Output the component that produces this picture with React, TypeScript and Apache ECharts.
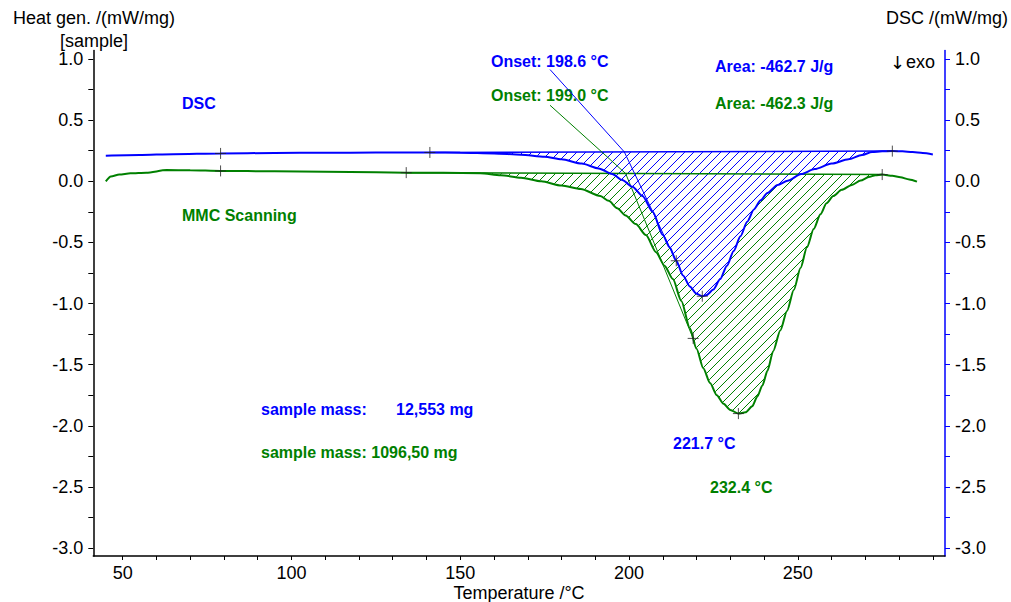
import React, { useEffect, useRef } from "react";
import * as echarts from "echarts";

// ---- data ----
const dscTemp = [45, 55, 65, 79, 95, 110, 125, 141, 150, 160, 168, 175, 180, 186, 191, 195, 198, 201, 204, 207, 210, 212, 214, 216, 218, 220, 221.7, 223, 225, 227, 229, 231, 233, 235, 237, 239, 241, 244, 247, 251, 255, 260, 265, 269, 272, 275, 278, 281, 284, 287, 290];
const dscValue = [0.21, 0.215, 0.222, 0.228, 0.232, 0.234, 0.235, 0.236, 0.234, 0.228, 0.218, 0.2, 0.18, 0.145, 0.105, 0.06, 0.01, -0.045, -0.12, -0.25, -0.44, -0.54, -0.65, -0.77, -0.86, -0.92, -0.94, -0.93, -0.885, -0.8, -0.69, -0.57, -0.45, -0.33, -0.23, -0.155, -0.095, -0.03, 0.005, 0.06, 0.1, 0.145, 0.18, 0.215, 0.24, 0.245, 0.247, 0.245, 0.24, 0.232, 0.22];

const mmcTemp = [45, 46.5, 49, 52.3, 57, 63, 70, 79, 95, 110, 125, 134, 145, 156, 162, 168, 174, 180, 185.7, 191.5, 194, 196.5, 199, 202, 205, 208, 210.5, 213, 215.5, 218, 220, 222, 224, 226, 228, 230, 232.4, 234.5, 236.5, 238, 239.5, 241, 242.7, 244.8, 246.8, 248.8, 250.8, 252.7, 254.7, 256.7, 258.5, 260.5, 263, 266, 268.6, 271, 273, 275, 278, 280.4, 283, 285.3];
const mmcValue = [0.0, 0.04, 0.055, 0.065, 0.07, 0.092, 0.09, 0.085, 0.082, 0.078, 0.074, 0.071, 0.069, 0.066, 0.05, 0.03, 0.0, -0.035, -0.063, -0.12, -0.16, -0.22, -0.28, -0.35, -0.44, -0.58, -0.69, -0.8, -0.98, -1.2, -1.37, -1.53, -1.65, -1.75, -1.82, -1.87, -1.9, -1.89, -1.84, -1.76, -1.67, -1.55, -1.39, -1.22, -1.06, -0.89, -0.71, -0.54, -0.39, -0.27, -0.18, -0.12, -0.07, -0.03, 0.006, 0.035, 0.05, 0.055, 0.045, 0.033, 0.015, -0.003];

const dscMarks = [[79, 0.228], [141, 0.236], [214, -0.65], [221.7, -0.94], [278, 0.247]];
const mmcMarks = [[79, 0.085], [134, 0.071], [219, -1.285], [232.4, -1.9], [275, 0.055]];

const dscBaseline = [[141, 0.236], [278, 0.247]];
const mmcBaseline = [[134, 0.071], [275, 0.055]];
const dscTangent = [[198.6, 0.2406], [214.6, -0.69]];
const mmcTangent = [[199.0, 0.0636], [219.5, -1.32]];
const dscLeader = [[176.6, 0.914], [198.6, 0.2406]];
const mmcLeader = [[176.6, 0.622], [199.0, 0.0636]];

const xTickValues = [50, 60, 70, 80, 90, 100, 110, 120, 130, 140, 150, 160, 170, 180, 190, 200, 210, 220, 230, 240, 250, 260, 270, 280, 290];
const xLabelValues = [50, 100, 150, 200, 250];
const yTickValues = [-3, -2.75, -2.5, -2.25, -2, -1.75, -1.5, -1.25, -1, -0.75, -0.5, -0.25, 0, 0.25, 0.5, 0.75, 1];
const yLabelValues = [-3, -2.5, -2, -1.5, -1, -0.5, 0, 0.5, 1];

const BLUE = "#0000ff";
const GREEN = "#008000";
const FONT = "'Liberation Sans', Arial, 'DejaVu Sans', sans-serif";

const zip = (a: number[], b: number[]) => a.map((v, i) => [v, b[i]]);

const interp = (xs: number[], ys: number[], x: number) => {
  if (x <= xs[0]) return ys[0];
  if (x >= xs[xs.length - 1]) return ys[ys.length - 1];
  let lo = 0, hi = xs.length - 1;
  while (hi - lo > 1) {
    const mid = (lo + hi) >> 1;
    if (xs[mid] <= x) lo = mid; else hi = mid;
  }
  const t = (x - xs[lo]) / (xs[hi] - xs[lo]);
  return ys[lo] + t * (ys[hi] - ys[lo]);
};

function hatchSeries(temps: number[], vals: number[], base: number[][], yAxisIndex: number, color: string, z: number) {
  return {
    type: "custom",
    yAxisIndex,
    silent: true,
    z,
    itemStyle: { color, borderColor: color },
    data: [base[0]],
    renderItem: (_params: any, api: any) => {
      const px: number[] = [];
      const py: number[] = [];
      for (let i = 0; i < temps.length; i++) {
        const p = api.coord([temps[i], vals[i]]);
        px.push(p[0]);
        py.push(p[1]);
      }
      const b0 = api.coord(base[0]);
      const b1 = api.coord(base[1]);
      const baseY = (x: number) => b0[1] + ((b1[1] - b0[1]) * (x - b0[0])) / (b1[0] - b0[0]);
      const step = 9;
      let d = "";
      let maxY = -Infinity;
      for (const v of py) maxY = Math.max(maxY, v);
      const cMin = Math.floor((b0[0] + Math.min(b0[1], b1[1])) / step) * step;
      const cMax = b1[0] + maxY;
      const seg = (a: number, b: number, c: number) => {
        d += `M${a.toFixed(2)} ${(c - a).toFixed(2)}L${b.toFixed(2)} ${(c - b).toFixed(2)}`;
      };
      for (let c = cMin; c <= cMax; c += step) {
        let inside = false;
        let sx = 0;
        let lastX = 0;
        for (let x = b0[0]; x <= b1[0]; x += 0.5) {
          const y = c - x;
          const ok = y >= baseY(x) && y <= interp(px, py, x);
          if (ok && !inside) { inside = true; sx = x; }
          if (!ok && inside) { inside = false; seg(sx, lastX, c); }
          lastX = x;
        }
        if (inside) seg(sx, lastX, c);
      }
      return {
        type: "path",
        shape: { pathData: d || "M0 0" },
        style: { stroke: color, fill: "none", lineWidth: 1 },
      };
    },
  };
}

const thinLine = (data: number[][], color: string, yAxisIndex: number, width = 1) => ({
  type: "line",
  yAxisIndex,
  data,
  showSymbol: false,
  silent: true,
  z: 3,
  lineStyle: { color, width },
});

const markSeries = (data: number[][], yAxisIndex: number) => ({
  type: "scatter",
  yAxisIndex,
  data,
  symbol: "path://M0 5 L10 5 M5 0 L5 10",
  symbolSize: 11,
  silent: true,
  z: 6,
  itemStyle: { color: "none", borderColor: "#222", borderWidth: 1 },
});

const txt = (text: string, x: number, y: number, fill: string, bold = true, size = 16, align = "left", family = FONT) => ({
  type: "text",
  x,
  y,
  silent: true,
  style: {
    text,
    fill,
    fontSize: size,
    fontWeight: bold ? "bold" : "normal",
    fontFamily: family,
    align,
    verticalAlign: "middle",
  },
});

const yAxisBase = (position: string, lineColor: string) => ({
  type: "value",
  position,
  min: -3.065,
  max: 1.07,
  axisLine: { show: true, onZero: false, lineStyle: { color: lineColor, width: 1.5 } },
  axisTick: { show: true, customValues: yTickValues, length: 5, lineStyle: { color: lineColor, width: 1 } },
  axisLabel: {
    customValues: yLabelValues,
    margin: 10,
    fontSize: 18,
    color: "#000",
    fontFamily: FONT,
    formatter: (v: number) => Number(v).toFixed(1),
  },
  splitLine: { show: false },
});

export default function App() {
  const ref = useRef<HTMLDivElement>(null);
  useEffect(() => {
    document.body.style.margin = "0";
    if (!ref.current) return;
    const chart = echarts.init(ref.current, null, { renderer: "svg" });
    chart.setOption({
      animation: false,
      backgroundColor: "#fff",
      textStyle: { fontFamily: FONT },
      grid: { left: 93.3, right: 66, top: 50.5, bottom: 46, containLabel: false, outerBoundsMode: "none" },
      xAxis: {
        type: "value",
        min: 41.3,
        max: 293.6,
        axisLine: { show: true, onZero: false, lineStyle: { color: "#000", width: 1.5 } },
        axisTick: { show: true, customValues: xTickValues, length: 4, lineStyle: { color: "#000" } },
        axisLabel: { customValues: xLabelValues, margin: 8, fontSize: 18, color: "#000", fontFamily: FONT },
        splitLine: { show: false },
      },
      yAxis: [yAxisBase("left", "#000"), yAxisBase("right", BLUE)],
      series: [
        hatchSeries(mmcTemp, mmcValue, mmcBaseline, 0, GREEN, 1),
        hatchSeries(dscTemp, dscValue, dscBaseline, 1, BLUE, 1),
        thinLine(mmcBaseline, GREEN, 0, 1.5),
        thinLine(dscBaseline, BLUE, 1, 1.5),
        thinLine(mmcTangent, GREEN, 0),
        thinLine(dscTangent, BLUE, 1),
        thinLine(mmcLeader, GREEN, 0),
        thinLine(dscLeader, BLUE, 1),
        {
          type: "line",
          name: "MMC Scanning",
          yAxisIndex: 0,
          data: zip(mmcTemp, mmcValue),
          showSymbol: false,
          smooth: 0.25,
          smoothMonotone: "x",
          z: 4,
          lineStyle: { color: GREEN, width: 2 },
        },
        {
          type: "line",
          name: "DSC",
          yAxisIndex: 1,
          data: zip(dscTemp, dscValue),
          showSymbol: false,
          smooth: 0.25,
          smoothMonotone: "x",
          z: 5,
          lineStyle: { color: BLUE, width: 2 },
        },
        markSeries(mmcMarks, 0),
        markSeries(dscMarks, 1),
      ],
      graphic: [
        txt("Heat gen. /(mW/mg)", 94, 18, "#000", false, 18, "center"),
        txt("[sample]", 94, 41, "#000", false, 18, "center"),
        txt("DSC /(mW/mg)", 1008, 18, "#000", false, 18, "right"),
        txt("Temperature /°C", 519, 593, "#000", false, 18, "center"),
        txt("↓", 890, 62, "#000", false, 18, "left", "'DejaVu Sans', sans-serif"),
        txt("exo", 906, 62, "#000", false, 18, "left"),
        txt("DSC", 182, 103, BLUE),
        txt("MMC Scanning", 182, 215, GREEN),
        txt("Onset: 198.6 °C", 491, 61, BLUE),
        txt("Onset: 199.0 °C", 491, 95, GREEN),
        txt("Area: -462.7 J/g", 715, 66, BLUE),
        txt("Area: -462.3 J/g", 715, 103, GREEN),
        txt("sample mass:", 261, 409, BLUE),
        txt("12,553 mg", 396, 409, BLUE),
        txt("sample mass: 1096,50 mg", 261, 452, GREEN),
        txt("221.7 °C", 673, 443, BLUE),
        txt("232.4 °C", 710, 487, GREEN),
      ],
    });
    return () => chart.dispose();
  }, []);
  return <div ref={ref} style={{ width: 1011, height: 602 }} />;
}
